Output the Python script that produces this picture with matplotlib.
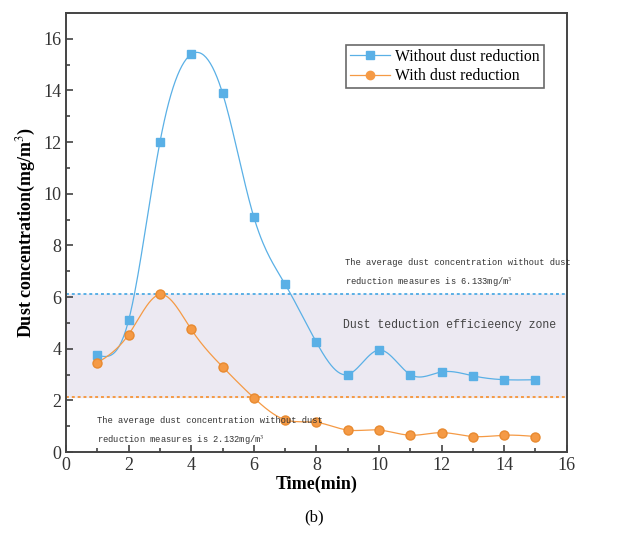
import numpy as np
import matplotlib.pyplot as plt
from matplotlib.ticker import MultipleLocator

# Dust concentration over time (mg/m3)
time_min = [1, 2, 3, 4, 5, 6, 7, 8, 9, 10, 11, 12, 13, 14, 15]
without_reduction = [3.75, 5.1, 12.0, 15.4, 13.9, 9.1, 6.5, 4.25, 3.0, 3.95, 3.0, 3.1, 2.95, 2.8, 2.8]
with_reduction = [3.45, 4.55, 6.1, 4.75, 3.3, 2.1, 1.25, 1.15, 0.85, 0.85, 0.65, 0.75, 0.6, 0.65, 0.6]
avg_without = 6.133
avg_with = 2.132

BLUE = '#5ab0e6'
ORANGE = '#f59a45'


def natural_spline(x, y, n=400):
    # natural cubic spline through the measured points, only for a smooth curve
    x = np.asarray(x, float)
    y = np.asarray(y, float)
    k = len(x)
    h = np.diff(x)
    A = np.zeros((k, k))
    b = np.zeros(k)
    A[0, 0] = A[-1, -1] = 1
    for i in range(1, k - 1):
        A[i, i - 1] = h[i - 1]
        A[i, i] = 2 * (h[i - 1] + h[i])
        A[i, i + 1] = h[i]
        b[i] = 3 * ((y[i + 1] - y[i]) / h[i] - (y[i] - y[i - 1]) / h[i - 1])
    c = np.linalg.solve(A, b)
    xs = np.linspace(x[0], x[-1], n)
    idx = np.clip(np.searchsorted(x, xs) - 1, 0, k - 2)
    dx = xs - x[idx]
    bb = (y[idx + 1] - y[idx]) / h[idx] - h[idx] * (2 * c[idx] + c[idx + 1]) / 3
    dd = (c[idx + 1] - c[idx]) / (3 * h[idx])
    ys = y[idx] + bb * dx + c[idx] * dx ** 2 + dd * dx ** 3
    return xs, ys


plt.rcParams['font.family'] = ['Liberation Serif', 'DejaVu Serif']
plt.rcParams['mathtext.fontset'] = 'stix'

fig = plt.figure(figsize=(6.29, 5.41), dpi=100)
ax = fig.add_axes([0.105, 0.1645, 0.796, 0.8115])

# efficiency zone between the two averages
ax.axhspan(avg_with, avg_without, color='#ece9f2', zorder=0)
ax.axhline(avg_without, color=BLUE, ls=(0, (1.5, 1.5)), lw=1.4, zorder=1)
ax.axhline(avg_with, color=ORANGE, ls=(0, (1.5, 1.5)), lw=1.4, zorder=1)

xs, ys = natural_spline(time_min, without_reduction)
ax.plot(xs, ys, color=BLUE, lw=0.9, zorder=2)
ax.plot(time_min, without_reduction, ls='none', marker='s', ms=6, color=BLUE, zorder=3)
xs, ys = natural_spline(time_min, with_reduction)
ax.plot(xs, ys, color=ORANGE, lw=0.9, zorder=2)
ax.plot(time_min, with_reduction, ls='none', marker='o', ms=6.5, color=ORANGE,
        markeredgecolor='#e88a30', zorder=3)

# legend handles
ax.plot([], [], color=BLUE, lw=0.9, marker='s', ms=6, label='Without dust reduction')
ax.plot([], [], color=ORANGE, lw=0.9, marker='o', ms=6, label='With dust reduction')
leg = ax.legend(loc='upper right', bbox_to_anchor=(0.954, 0.927), fontsize=11.3,
                frameon=True, fancybox=False, edgecolor='#444444', borderpad=0.25,
                handlelength=2.5, handletextpad=0.35, labelspacing=0.2,
                borderaxespad=0.0)
leg.get_frame().set_linewidth(1.2)

mono = ['Liberation Mono', 'DejaVu Sans Mono']
ax.text(8.9, 6.9, 'The average dust concentration without dust\n'
        'reduction measures is 6.133mg/m$^3$', fontsize=6.3, family=mono,
        color='#333333', linespacing=1.9, va='center')
ax.text(8.85, 4.9, 'Dust teduction efficieency zone', fontsize=8.3, family=mono,
        color='#444444', va='center')
ax.text(1.0, 0.78, 'The average dust concentration without dust\n'
        'reduction measures is 2.132mg/m$^3$', fontsize=6.3, family=mono,
        color='#333333', linespacing=1.9, va='center')

ax.set_xlim(0, 16)
ax.set_ylim(0, 17)
ax.xaxis.set_major_locator(MultipleLocator(2))
ax.xaxis.set_minor_locator(MultipleLocator(1))
ax.yaxis.set_major_locator(MultipleLocator(2))
ax.yaxis.set_minor_locator(MultipleLocator(1))
ax.tick_params(which='both', direction='in', width=1.1, labelsize=13, colors='#333333')
ax.tick_params(which='major', length=5)
ax.tick_params(which='minor', length=3)
for sp in ax.spines.values():
    sp.set_linewidth(1.4)
    sp.set_color('#444444')

ax.set_xlabel('Time(min)', fontsize=13, fontweight='bold', labelpad=1)
ax.set_ylabel('Dust concentration(mg/m$^3$)', fontsize=13, fontweight='bold', labelpad=4)

fig.text(0.5, 0.043, '(b)', ha='center', va='center', fontsize=12)

fig.savefig('out.png', dpi=100)
